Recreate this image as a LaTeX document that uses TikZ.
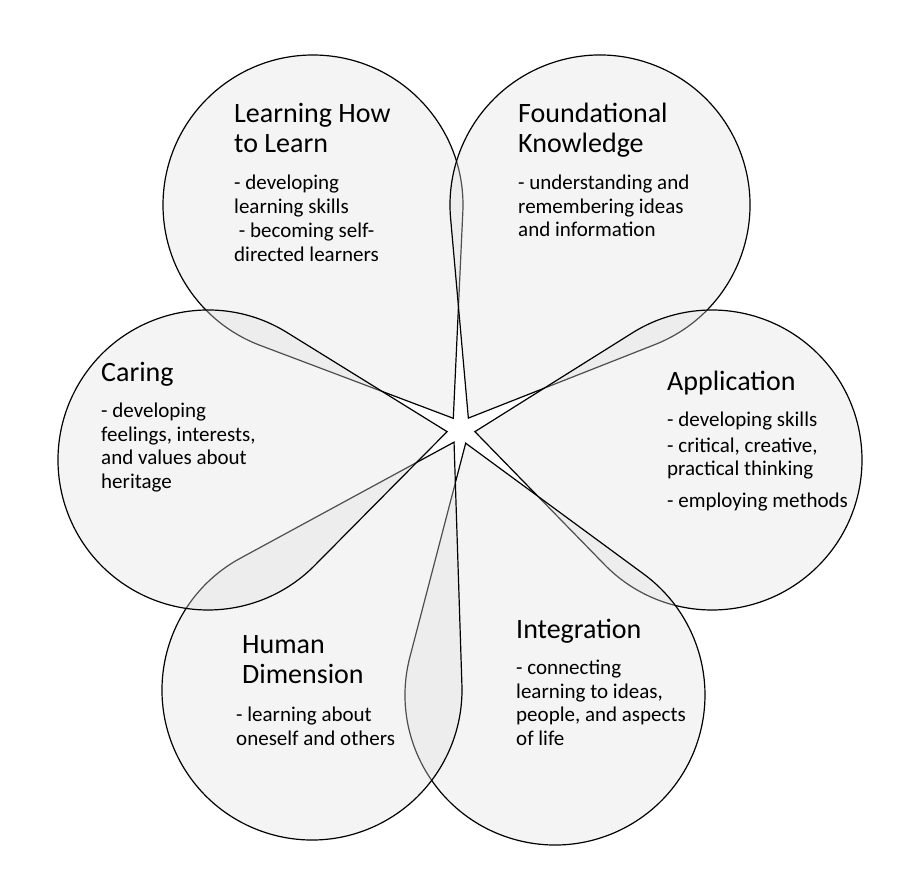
\documentclass[tikz,border=0pt]{standalone}
\usepackage{fontspec}
\setmainfont{Carlito}
\begin{document}
\begin{tikzpicture}[x=1pt,y=1pt,
  petal/.style={draw=black,line width=1.2pt,fill=black!12,fill opacity=0.35},
  ttl/.style={anchor=north west,align=left,font=\fontsize{28}{30}\selectfont,inner sep=0pt},
  body/.style={anchor=north west,align=left,font=\fontsize{21}{23.5}\selectfont,inner sep=0pt}]
\useasboundingbox (0,0) rectangle (908,871);
\fill[white] (0,0) rectangle (908,871);
\foreach \cx/\cy in {313/666,600/666,712/411,555/176,312/181,208/411}{
  \pgfmathsetmacro\ph{atan2(\cy-441,\cx-461)}
  \pgfmathsetmacro\tx{461+14*cos(\ph)}
  \pgfmathsetmacro\ty{441+14*sin(\ph)}
  \pgfmathsetmacro\dd{veclen(\cx-\tx,\cy-\ty)}
  \pgfmathsetmacro\al{acos(150/\dd)}
  \pgfmathsetmacro\ps{\ph+180}
  \pgfmathsetmacro\ax{\cx+150*cos(\ps+\al)}
  \pgfmathsetmacro\ay{\cy+150*sin(\ps+\al)}
  \draw[petal] (\tx,\ty) -- (\ax,\ay) arc[start angle=\ps+\al, end angle=\ps-\al+360, radius=150pt] -- cycle;
}
\node[ttl] (t1) at (234,768) {Learning How\\to Learn};
\node[body] (b1) at (234,696) {- developing\\learning skills\\[1pt]\ - becoming self-\\directed learners};
\node[ttl] (t2) at (518,768) {Foundational\\Knowledge};
\node[body] (b2) at (518,696) {- understanding and\\remembering ideas\\and information};
\node[ttl] (t3) at (667,500) {Application};
\node[body] (b3) at (667,459) {- developing skills\\[2pt]- critical, creative,\\practical thinking\\[8pt]- employing methods};
\node[ttl] (t4) at (516,252) {Integration};
\node[body] (b4) at (516,211) {- connecting\\learning to ideas,\\people, and aspects\\of life};
\node[ttl] (t5) at (242,236) {Human\\Dimension};
\node[body] (b5) at (236,164) {- learning about\\oneself and others};
\node[ttl] (t6) at (101,509) {Caring};
\node[body] (b6) at (101,468) {- developing\\feelings, interests,\\and values about\\heritage};
\end{tikzpicture}
\end{document}
